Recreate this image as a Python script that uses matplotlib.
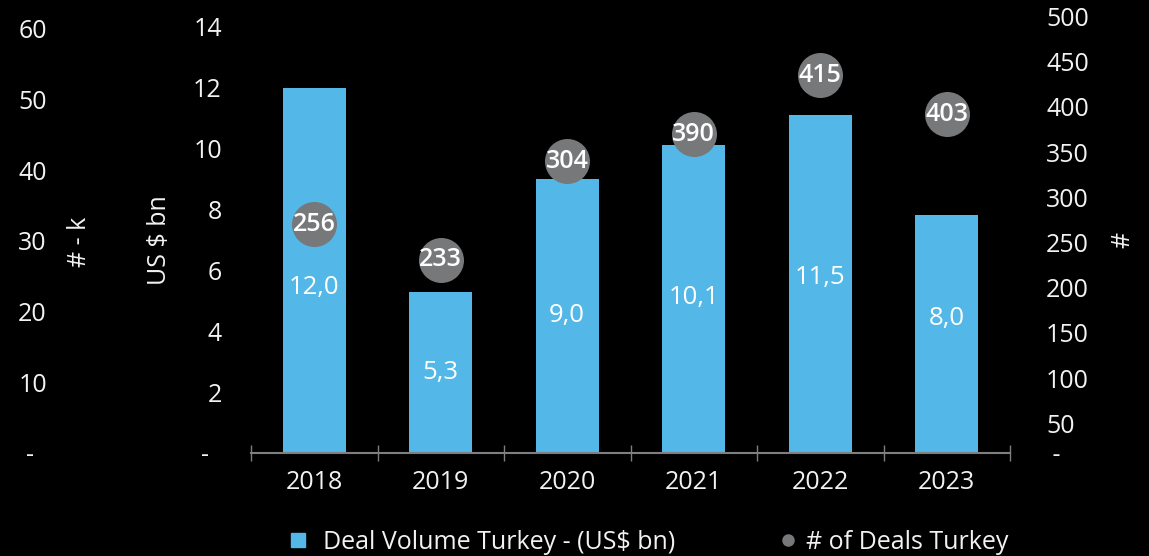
import matplotlib
matplotlib.use('Agg')
import matplotlib.pyplot as plt
from matplotlib.lines import Line2D

plt.rcParams['font.family'] = ['Open Sans', 'DejaVu Sans']

years = ['2018', '2019', '2020', '2021', '2022', '2023']
volume = [12.0, 5.3, 9.0, 10.1, 11.1, 7.8]          # bar heights as drawn
volume_labels = ['12,0', '5,3', '9,0', '10,1', '11,5', '8,0']
deals = [270, 231, 340, 370, 435, 392]              # dot heights as drawn (right axis)
deal_labels = ['256', '233', '304', '390', '415', '403']

blue = '#53B8E8'
grey = '#76787A'
txt = '#F2F2F2'

fig = plt.figure(figsize=(11.49, 5.56), dpi=100, facecolor='black')
ax = fig.add_axes([251 / 1149, 103 / 556, 759 / 1149, 437 / 556])
ax.set_facecolor('black')

x = list(range(len(years)))
ax.bar(x, volume, width=0.5, color=blue, zorder=2)
ax.set_xlim(-0.5, len(years) - 0.5)
ax.set_ylim(0, 14.35)
ax.set_yticks([0, 2, 4, 6, 8, 10, 12, 14])
ax.set_yticklabels(['-  ', '2', '4', '6', '8', '10', '12', '14'])
ax.tick_params(axis='y', length=0, pad=21, labelsize=18, labelcolor=txt)

ax.set_xticks(x)
ax.set_xticklabels(years)
ax.tick_params(axis='x', which='major', length=0, pad=12, labelsize=18, labelcolor=txt)
ax.set_xticks([i - 0.5 for i in range(len(years) + 1)], minor=True)
ax.tick_params(axis='x', which='minor', direction='inout', length=12, width=1, color='#7f7f7f')

for s in ['top', 'left', 'right']:
    ax.spines[s].set_visible(False)
ax.spines['bottom'].set_color('#7f7f7f')
ax.spines['bottom'].set_linewidth(1.5)

# bar value labels (placed where the original has them)
label_pos = [5.45, 2.63, 4.5, 5.09, 5.75, 4.42]
for i, lab in enumerate(volume_labels):
    ax.text(i, label_pos[i], lab, ha='center', va='center', color='white',
            fontsize=18.5, fontweight='medium', zorder=3)

# right axis: number of deals
ax2 = ax.twinx()
ax2.set_ylim(17.1, 500.7)
ax2.scatter(x, deals, s=1050, color=grey, zorder=4, linewidths=0)
for i, lab in enumerate(deal_labels):
    ax2.text(i, deals[i], lab, ha='center', va='center', color='white',
             fontsize=18, fontweight='semibold', zorder=5)
ax2.set_yticks([17.1, 50, 100, 150, 200, 250, 300, 350, 400, 450, 500])
ax2.set_yticklabels([' -', '50', '100', '150', '200', '250', '300', '350', '400', '450', '500'])
ax2.tick_params(axis='y', length=0, pad=26, labelsize=18, labelcolor=txt)
for s in ax2.spines.values():
    s.set_visible(False)

# outer left axis: # - k
ax3 = ax.twinx()
ax3.set_ylim(0, 61.8)
ax3.yaxis.tick_left()
ax3.set_yticks([0, 10, 20, 30, 40, 50, 60])
ax3.set_yticklabels(['-  ', '10', '20', '30', '40', '50', '60'])
ax3.tick_params(axis='y', length=0, pad=147, labelsize=18, labelcolor=txt)
for s in ax3.spines.values():
    s.set_visible(False)
ax3.patch.set_visible(False)

fig.text(80 / 1149, 1 - 242 / 556, '# - k', rotation=90, ha='center', va='center',
         color=txt, fontsize=18)
fig.text(160 / 1149, 1 - 240 / 556, 'US $ bn', rotation=90, ha='center', va='center',
         color=txt, fontsize=18)
fig.text(1123 / 1149, 1 - 240 / 556, '#', rotation=90, ha='center', va='center',
         color=txt, fontsize=18)

h1 = Line2D([], [], marker='s', linestyle='none', markersize=10.5, color=blue)
h2 = Line2D([], [], marker='o', linestyle='none', markersize=8, color=grey)
fig.legend([h1], ['Deal Volume Turkey - (US$ bn)'], loc='center left',
           bbox_to_anchor=(290 / 1149, 0.024), frameon=False, fontsize=18,
           labelcolor=txt, borderpad=0, borderaxespad=0, handlelength=0.64,
           handletextpad=0.68)
fig.legend([h2], ['# of Deals Turkey'], loc='center left',
           bbox_to_anchor=(782 / 1149, 0.024), frameon=False, fontsize=18,
           labelcolor=txt, borderpad=0, borderaxespad=0, handlelength=0.5,
           handletextpad=0.46)

fig.savefig('out.png', dpi=100, facecolor='black')
